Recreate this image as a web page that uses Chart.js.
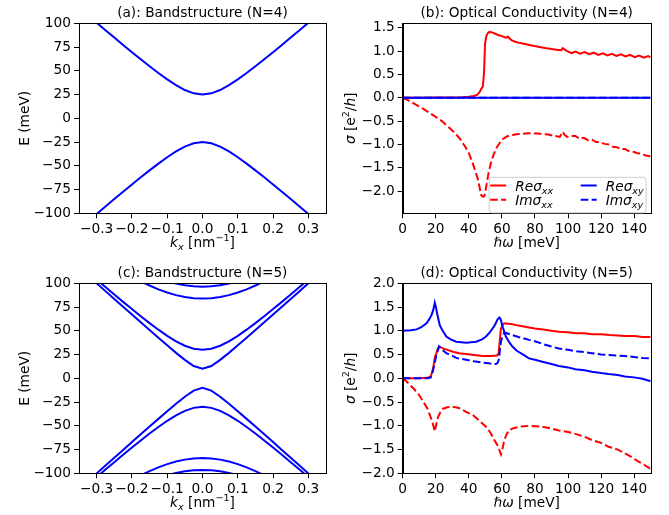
<!DOCTYPE html>
<html>
<head>
<meta charset="utf-8">
<script src="https://cdn.jsdelivr.net/npm/chart.js@4"></script>
<style>
  body { margin: 0; background: #fff; }
  canvas { position: absolute; }
</style>
</head>
<body>
<canvas id="bandN4" width="335" height="260" style="left:0px;top:0px"></canvas>
<canvas id="condN4" width="334" height="260" style="left:335px;top:0px"></canvas>
<canvas id="bandN5" width="335" height="255" style="left:0px;top:260px"></canvas>
<canvas id="condN5" width="334" height="255" style="left:335px;top:260px"></canvas>
<script>
"use strict"

// ---- band structure, k in nm^-1, E in meV ----
const kGrid = [-0.3, -0.275, -0.25, -0.225, -0.2, -0.175, -0.15, -0.125, -0.1, -0.075, -0.05, -0.025, 0,
               0.025, 0.05, 0.075, 0.1, 0.125, 0.15, 0.175, 0.2, 0.225, 0.25, 0.275, 0.3];
const kInner = [-0.2, -0.175, -0.15, -0.125, -0.1, -0.075, -0.05, -0.025, 0,
                0.025, 0.05, 0.075, 0.1, 0.125, 0.15, 0.175, 0.2];

const bandN4Up = [100.7, 92.8, 85.0, 77.3, 69.6, 62.1, 54.8, 47.7, 41.0, 34.9, 29.8, 26.3, 25.0,
                  26.3, 29.8, 34.9, 41.0, 47.7, 54.8, 62.1, 69.6, 77.3, 85.0, 92.8, 100.7];
const bandN4Down = [-100.7, -92.8, -85.0, -77.3, -69.6, -62.1, -54.8, -47.7, -41.0, -34.9, -29.8, -26.3, -25.0,
                    -26.3, -29.8, -34.9, -41.0, -47.7, -54.8, -62.1, -69.6, -77.3, -85.0, -92.8, -100.7];

const bandN5C1 = [100.1, 91.8, 83.6, 75.4, 67.1, 59.0, 50.8, 42.7, 34.7, 26.8, 19.4, 13.0, 10.0,
                  13.0, 19.4, 26.8, 34.7, 42.7, 50.8, 59.0, 67.1, 75.4, 83.6, 91.8, 100.1];
const bandN5C2 = [104.0, 96.1, 88.3, 80.5, 72.9, 65.4, 58.1, 51.2, 44.7, 39.0, 34.3, 31.1, 30.0,
                  31.1, 34.3, 39.0, 44.7, 51.2, 58.1, 65.4, 72.9, 80.5, 88.3, 96.1, 104.0];
const bandN5V1 = [-100.1, -91.8, -83.6, -75.4, -67.1, -59.0, -50.8, -42.7, -34.7, -26.8, -19.4, -13.0, -10.0,
                  -13.0, -19.4, -26.8, -34.7, -42.7, -50.8, -59.0, -67.1, -75.4, -83.6, -91.8, -100.1];
const bandN5V2 = [-104.0, -96.1, -88.3, -80.5, -72.9, -65.4, -58.1, -51.2, -44.7, -39.0, -34.3, -31.1, -30.0,
                  -31.1, -34.3, -39.0, -44.7, -51.2, -58.1, -65.4, -72.9, -80.5, -88.3, -96.1, -104.0];
const bandN5C3 = [107.1, 102.1, 97.7, 93.7, 90.3, 87.6, 85.6, 84.4, 84.0, 84.4, 85.6, 87.6, 90.3, 93.7, 97.7, 102.1, 107.1];
const bandN5C4 = [117.1, 112.6, 108.6, 105.0, 102.0, 99.7, 97.9, 96.9, 96.5, 96.9, 97.9, 99.7, 102.0, 105.0, 108.6, 112.6, 117.1];
const bandN5V3 = [-107.1, -102.1, -97.7, -93.7, -90.3, -87.6, -85.6, -84.4, -84.0, -84.4, -85.6, -87.6, -90.3, -93.7, -97.7, -102.1, -107.1];
const bandN5V4 = [-117.1, -112.6, -108.6, -105.0, -102.0, -99.7, -97.9, -96.9, -96.5, -96.9, -97.9, -99.7, -102.0, -105.0, -108.6, -112.6, -117.1];

// ---- optical conductivity, hbar*omega in meV, sigma in e^2/h ----
const wReXX4 = [0, 10, 20, 30, 36, 40, 43, 45, 46.5, 47.5, 48.5, 49.2, 49.8, 50.6, 51.6, 52.5, 54, 56, 58, 60,
                62, 62.8, 63.6, 64.6, 66, 68, 70, 74, 78, 82, 86, 90, 94, 96, 96.8, 98, 99.5, 102, 104.5,
                107.3, 110, 112.8, 115.5, 118.3, 121, 123.8, 126.5, 129.3, 132, 134.8, 137.5, 140.3, 143,
                145.8, 148.5, 150];
const reXX4 = [0, 0, 0.003, 0.006, 0.01, 0.018, 0.035, 0.06, 0.12, 0.19, 0.24, 0.55, 1.15, 1.32, 1.39, 1.41, 1.40, 1.37, 1.34, 1.32,
               1.29, 1.29, 1.31, 1.27, 1.23, 1.20, 1.18, 1.15, 1.12, 1.09, 1.065, 1.045, 1.025, 1.02, 1.06, 1.03, 1.00, 0.955, 0.99,
               0.943, 0.977, 0.931, 0.965, 0.919, 0.953, 0.907, 0.941, 0.895, 0.929, 0.883, 0.917, 0.871, 0.905,
               0.859, 0.893, 0.865];
const wImXX4 = [0, 4, 8, 12, 16, 20, 24, 28, 32, 35, 38, 40, 42, 44, 45.5, 46.5, 47.3, 48.2, 49.2, 50, 51, 52, 53.5,
                55, 57, 60, 63, 66, 70, 76, 82, 88, 92, 95, 96.8, 98, 99.5, 102, 104.5, 107, 109.5, 112, 114.5,
                117, 119.5, 122, 124.5, 127, 129.5, 132, 134.5, 137, 139.5, 142, 144.5, 147, 149, 150];
const imXX4 = [0, -0.07, -0.15, -0.23, -0.32, -0.41, -0.51, -0.64, -0.77, -0.90, -1.06, -1.19, -1.37, -1.58, -1.75, -1.92, -2.08, -2.12, -2.12, -2.02, -1.80, -1.60, -1.38,
               -1.22, -1.06, -0.90, -0.83, -0.80, -0.78, -0.76, -0.77, -0.79, -0.82, -0.84, -0.73, -0.80, -0.84, -0.82, -0.82, -0.88, -0.86, -0.91, -0.90,
               -0.95, -0.95, -0.99, -1.00, -1.05, -1.06, -1.10, -1.10, -1.15, -1.16, -1.19, -1.20, -1.24, -1.25, -1.28];
const wXY4 = [0, 150];
const reXY4 = [0, 0];
const imXY4 = [0, 0];

const wReXX5 = [0, 10, 15, 17, 18.4, 19.5, 20.4, 21.2, 22, 24.4, 27, 30.4, 34, 38.4, 43, 48.4, 53, 57, 58, 58.6, 59.4,
                60.5, 61.4, 64, 66.4, 70, 76.4, 80, 85, 90, 94.4, 100, 105, 110, 114.4, 120, 125, 130, 134.4, 140, 145, 150];
const reXX5 = [0, 0, 0.01, 0.04, 0.21, 0.45, 0.53, 0.62, 0.67, 0.63, 0.60, 0.56, 0.53, 0.51, 0.49, 0.47, 0.47, 0.48, 0.52, 0.75, 1.05,
               1.12, 1.16, 1.15, 1.14, 1.11, 1.07, 1.05, 1.03, 1.00, 0.98, 0.97, 0.95, 0.95, 0.93, 0.93, 0.91, 0.90, 0.89, 0.89, 0.87, 0.87];
const wImXX5 = [0, 3, 6.4, 9.5, 12.4, 15, 16.4, 18, 19.4, 20.4, 21.4, 23, 24.4, 27, 29.4, 32, 34.4, 38, 42.4, 46, 50.4, 53,
                55.4, 57.5, 59.4, 60.4, 61.4, 63, 64.4, 67, 70.4, 76.4, 80, 84.4, 90, 94.4, 100, 104.4, 110, 114.4, 120,
                124.4, 130, 134.4, 138, 142.4, 146, 150];
const imXX5 = [0, -0.09, -0.21, -0.33, -0.49, -0.64, -0.77, -0.92, -1.12, -0.95, -0.81, -0.70, -0.64, -0.61, -0.60, -0.61, -0.63, -0.70, -0.77, -0.88, -1.02, -1.14,
               -1.30, -1.42, -1.60, -1.48, -1.30, -1.17, -1.09, -1.05, -1.02, -1.00, -1.01, -1.02, -1.06, -1.10, -1.13, -1.17, -1.23, -1.30, -1.36,
               -1.44, -1.50, -1.58, -1.65, -1.75, -1.82, -1.91];
const wReXY5 = [0, 5, 8.4, 11, 14.4, 16, 17.4, 18.5, 19.4, 20.2, 20.8, 22.4, 24, 26.4, 29, 32.4, 38.4, 44.4, 48, 50.4,
                52.5, 54.4, 56, 57.4, 58.5, 59.2, 60.4, 62.4, 64.4, 66.4, 69, 72.4, 76.4, 80, 84.4, 90, 94.4, 100,
                104.4, 110, 114.4, 120, 124.4, 130, 134.4, 140, 145, 150];
const reXY5 = [1.0, 1.01, 1.03, 1.07, 1.16, 1.24, 1.33, 1.44, 1.59, 1.48, 1.37, 1.12, 1.01, 0.88, 0.82, 0.77, 0.75, 0.77, 0.82, 0.88,
               0.96, 1.05, 1.14, 1.24, 1.28, 1.25, 1.09, 0.88, 0.76, 0.67, 0.58, 0.51, 0.42, 0.39, 0.35, 0.30, 0.26, 0.23,
               0.19, 0.17, 0.14, 0.11, 0.09, 0.07, 0.04, 0.02, -0.01, -0.06];
const wImXY5 = [0, 15, 17, 18.4, 20.4, 22, 24, 26.4, 29.6, 32.4, 38.4, 43, 48.4, 53, 56.4, 57.5, 58.2, 59.4, 60.5, 61.4,
                63, 66.4, 70, 76.4, 80, 85, 90, 94.4, 100, 105, 110, 114.4, 120, 125, 130, 134.4, 140, 145, 150];
const imXY5 = [0, 0, 0.02, 0.17, 0.49, 0.67, 0.60, 0.53, 0.48, 0.43, 0.39, 0.36, 0.33, 0.31, 0.30, 0.33, 0.40, 0.77, 0.90, 0.96,
               0.95, 0.91, 0.87, 0.81, 0.78, 0.72, 0.67, 0.63, 0.60, 0.57, 0.55, 0.53, 0.50, 0.49, 0.48, 0.47, 0.45, 0.43, 0.42];

// legend / axis text with sub- and superscripts
const sigmaLabels = ['Reσ_xx', 'Imσ_xx', 'Reσ_xy', 'Imσ_xy'];

const FONT = "'DejaVu Sans', sans-serif";
const FS = 13.7;
const SOLID = [];
const DASH = [7.6, 3.3];

function pts(xs, ys) {
  return xs.map((x, i) => ({x: x, y: ys[i]}));
}

function partFont(p, size) {
  const s = (p.sub || p.sup) ? size * 0.7 : size;
  return (p.it ? 'italic ' : '') + s + 'px ' + FONT;
}

// draws a list of text runs; x is the centre (or left edge), y the baseline
function drawRich(ctx, parts, x, y, size, align) {
  let w = 0;
  parts.forEach(p => { ctx.font = partFont(p, size); w += ctx.measureText(p.t).width; });
  let cx = align === 'left' ? x : x - w / 2;
  ctx.textAlign = 'left';
  ctx.textBaseline = 'alphabetic';
  parts.forEach(p => {
    ctx.font = partFont(p, size);
    const dy = p.sub ? size * 0.22 : (p.sup ? -size * 0.4 : 0);
    ctx.fillText(p.t, cx, y + dy);
    cx += ctx.measureText(p.t).width;
  });
}

function labelParts(label) {
  const [main, sub] = label.split('_');
  return [{t: main, it: true}, {t: sub, it: true, sub: true}];
}

function fmtTick(digits) {
  return v => {
    const s = Number(v).toFixed(digits);
    return s.charAt(0) === '-' ? '\u2212' + s.slice(1) : s;
  };
}

function axis(pos, min, max, ticks, digits, size) {
  return {
    type: 'linear',
    position: pos,
    min: min,
    max: max,
    afterBuildTicks: s => { s.ticks = ticks.map(v => ({value: v})); },
    afterFit: s => { if (pos === 'left') s.width = size; else s.height = size; },
    grid: {drawOnChartArea: false, drawTicks: true, tickLength: 5, color: '#000', lineWidth: 1},
    border: {display: true, color: '#000', width: 1},
    ticks: {
      color: '#000', padding: 3, autoSkip: false, maxRotation: 0, minRotation: 0,
      font: {family: FONT, size: FS},
      callback: fmtTick(digits)
    },
    title: {display: false}
  };
}

// box round the plot area plus the axis titles
const framePlugin = {
  id: 'frame',
  afterDraw(chart, args, opts) {
    const ctx = chart.ctx;
    const a = chart.chartArea;
    ctx.save();
    ctx.strokeStyle = '#000';
    ctx.lineWidth = 1;
    const l = Math.round(a.left), t = Math.round(a.top);
    ctx.strokeRect(l + 0.5, t + 0.5, Math.round(a.right) - l, Math.round(a.bottom) - t);
    ctx.fillStyle = '#000';
    drawRich(ctx, opts.xTitle, (a.left + a.right) / 2, a.bottom + 33.5, FS);
    ctx.translate(a.left - opts.yGap, (a.top + a.bottom) / 2);
    ctx.rotate(-Math.PI / 2);
    drawRich(ctx, opts.yTitle, 0, 0, FS);
    ctx.restore();
  }
};

const legendPlugin = {
  id: 'sigmaLegend',
  afterDraw(chart, args, opts) {
    if (!opts.show) return;
    const ctx = chart.ctx;
    const a = chart.chartArea;
    const w = 157, h = 35.5;
    const x0 = a.right - 5 - w, y0 = a.bottom - 1 - h;
    ctx.save();
    ctx.beginPath();
    ctx.roundRect(x0 + 0.5, y0 + 0.5, w, h, 3);
    ctx.fillStyle = 'rgba(255,255,255,0.8)';
    ctx.fill();
    ctx.strokeStyle = '#cccccc';
    ctx.lineWidth = 1;
    ctx.stroke();
    const cols = [x0 + 1.5, x0 + 92];
    const rows = [y0 + 13.7, y0 + 28];
    chart.data.datasets.forEach((ds, i) => {
      const cx = cols[Math.floor(i / 2)], by = rows[i % 2];
      ctx.beginPath();
      ctx.setLineDash(ds.borderDash);
      ctx.strokeStyle = ds.borderColor;
      ctx.lineWidth = ds.borderWidth;
      ctx.moveTo(cx, by - 5);
      ctx.lineTo(cx + 16, by - 5);
      ctx.stroke();
      ctx.setLineDash([]);
      ctx.fillStyle = '#000';
      drawRich(ctx, labelParts(ds.label), cx + 25, by, FS, 'left');
    });
    ctx.restore();
  }
};

function line(label, xs, ys, color, dash, order) {
  return {
    label: label, data: pts(xs, ys), borderColor: color, borderWidth: 2,
    borderDash: dash, pointRadius: 0, tension: 0, fill: false, order: order
  };
}

function makeChart(id, title, datasets, xs, ys, extra) {
  const cv = document.getElementById(id);
  return new Chart(cv.getContext('2d'), {
    type: 'line',
    data: {datasets: datasets},
    options: {
      responsive: false,
      animation: false,
      events: [],
      layout: {padding: {left: 0, right: extra.right, top: 0, bottom: 0}},
      scales: {
        x: axis('bottom', xs.min, xs.max, xs.ticks, xs.digits, cv.height - 213.3),
        y: axis('left', ys.min, ys.max, ys.ticks, ys.digits, extra.left)
      },
      plugins: {
        legend: {display: false},
        tooltip: {enabled: false},
        title: {
          display: true, text: title, color: '#000', fullSize: false,
          font: {family: FONT, size: FS, weight: 'normal', lineHeight: 1.2},
          padding: {top: 5.3, bottom: 1.6}
        },
        frame: extra.frame,
        sigmaLegend: {show: !!extra.legend}
      }
    },
    plugins: [framePlugin, legendPlugin]
  });
}

const kTicks = [-0.3, -0.2, -0.1, 0, 0.1, 0.2, 0.3];
const eTicks = [-100, -75, -50, -25, 0, 25, 50, 75, 100];
const wTicks = [0, 20, 40, 60, 80, 100, 120, 140];
const sTicks4 = [-2.0, -1.5, -1.0, -0.5, 0, 0.5, 1.0, 1.5];
const sTicks5 = [-2.0, -1.5, -1.0, -0.5, 0, 0.5, 1.0, 1.5, 2.0];

const kAxis = {min: -0.35, max: 0.35, ticks: kTicks, digits: 1};
const eAxis = {min: -100, max: 100, ticks: eTicks, digits: 0};
const wAxis = {min: 0, max: 150, ticks: wTicks, digits: 0};

const bandFrame = {
  xTitle: [{t: 'k', it: true}, {t: 'x', it: true, sub: true}, {t: ' [nm'}, {t: '\u22121', sup: true}, {t: ']'}],
  yTitle: [{t: 'E (meV)'}],
  yGap: 49.7
};
const condFrame = {
  xTitle: [{t: 'ℏω', it: true}, {t: ' [meV]'}],
  yTitle: [{t: 'σ', it: true}, {t: ' [e'}, {t: '2', sup: true}, {t: '/'}, {t: 'h', it: true}, {t: ']'}],
  yGap: 48
};

const BLUE = '#0000ff', RED = '#ff0000';

makeChart('bandN4', '(a): Bandstructure (N=4)', [
  line('upper', kGrid, bandN4Up, BLUE, SOLID, 1),
  line('lower', kGrid, bandN4Down, BLUE, SOLID, 2)
], kAxis, eAxis, {left: 79, right: 9, frame: bandFrame});

makeChart('condN4', '(b): Optical Conductivity (N=4)', [
  line(sigmaLabels[0], wReXX4, reXX4, RED, SOLID, 4),
  line(sigmaLabels[1], wImXX4, imXX4, RED, DASH, 3),
  line(sigmaLabels[2], wXY4, reXY4, BLUE, SOLID, 2),
  line(sigmaLabels[3], wXY4, imXY4, BLUE, DASH, 1)
], wAxis, {min: -2.478, max: 1.594, ticks: sTicks4, digits: 1},
   {left: 67.7, right: 18.3, frame: condFrame, legend: true});

makeChart('bandN5', '(c): Bandstructure (N=5)', [
  line('c1', kGrid, bandN5C1, BLUE, SOLID, 1),
  line('c2', kGrid, bandN5C2, BLUE, SOLID, 2),
  line('c3', kInner, bandN5C3, BLUE, SOLID, 3),
  line('c4', kInner, bandN5C4, BLUE, SOLID, 4),
  line('v1', kGrid, bandN5V1, BLUE, SOLID, 5),
  line('v2', kGrid, bandN5V2, BLUE, SOLID, 6),
  line('v3', kInner, bandN5V3, BLUE, SOLID, 7),
  line('v4', kInner, bandN5V4, BLUE, SOLID, 8)
], kAxis, eAxis, {left: 79, right: 9, frame: bandFrame});

makeChart('condN5', '(d): Optical Conductivity (N=5)', [
  line(sigmaLabels[0], wReXX5, reXX5, RED, SOLID, 4),
  line(sigmaLabels[1], wImXX5, imXX5, RED, DASH, 3),
  line(sigmaLabels[2], wReXY5, reXY5, BLUE, SOLID, 2),
  line(sigmaLabels[3], wImXY5, imXY5, BLUE, DASH, 1)
], wAxis, {min: -2.0, max: 2.0, ticks: sTicks5, digits: 1},
   {left: 67.7, right: 18.3, frame: condFrame});
</script>
</body>
</html>
